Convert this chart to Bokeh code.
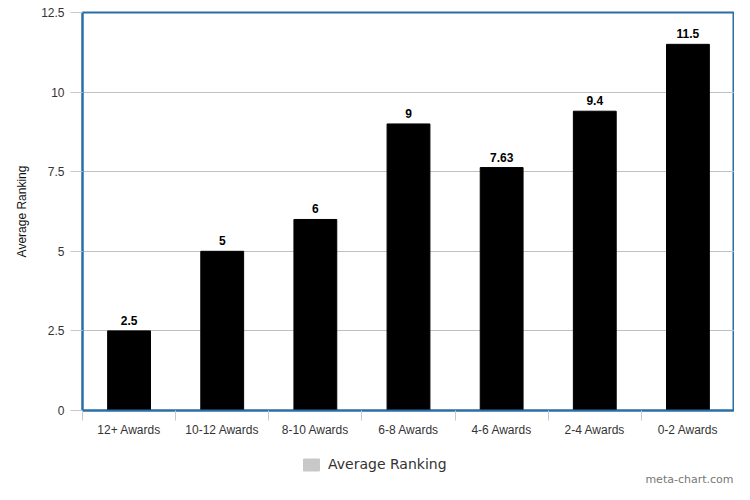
from bokeh.plotting import figure
from bokeh.layouts import column
from bokeh.models import ColumnDataSource, FixedTicker, Legend, LegendItem, Range1d, Label
from bokeh.core.properties import value
from bokeh.embed import file_html
from bokeh.resources import INLINE

categories = ["12+ Awards", "10-12 Awards", "8-10 Awards", "6-8 Awards", "4-6 Awards", "2-4 Awards", "0-2 Awards"]
values = [2.5, 5, 6, 9, 7.63, 9.4, 11.5]
value_labels = ["2.5", "5", "6", "9", "7.63", "9.4", "11.5"]
y_ticks = [0, 2.5, 5, 7.5, 10, 12.5]
series_name = "Average Ranking"

xs = list(range(1, len(categories) + 1))
src = ColumnDataSource(dict(x=xs, top=values, lab=value_labels))

p = figure(width=734, height=440, output_backend="svg", toolbar_location=None,
           x_range=Range1d(0.5, len(categories) + 0.5), y_range=Range1d(0, 12.5),
           min_border_left=82, min_border_right=0, min_border_top=12, min_border_bottom=30)

p.vbar(x="x", top="top", width=0.46, source=src, fill_color="black", line_color="black")
p.text(x="x", y="top", text="lab", source=src, text_align="center", text_baseline="bottom",
       y_offset=-6, text_font_size="12px", text_font_style="bold", text_color="black",
       text_font=value("Liberation Sans"))

p.outline_line_color = "#2a6ea6"
p.outline_line_width = 2
p.xaxis.ticker = FixedTicker(ticks=xs, minor_ticks=[x + 0.5 for x in range(0, len(categories) + 1)])
p.xaxis.major_label_overrides = {x: c for x, c in zip(xs, categories)}
p.xaxis.major_tick_out = 0
p.xaxis.major_tick_in = 0
p.xaxis.minor_tick_out = 10
p.xaxis.minor_tick_in = 0
p.xaxis.minor_tick_line_color = "#c8c8c8"
p.xaxis.axis_line_color = "#2a6ea6"
p.xaxis.axis_line_width = 2
p.xaxis.major_label_standoff = 2
p.xaxis.major_label_text_font = "Liberation Sans"
p.xaxis.major_label_text_font_size = "12px"
p.xaxis.major_label_text_color = "#333333"

p.yaxis.ticker = FixedTicker(ticks=y_ticks)
p.yaxis.major_label_overrides = {0: "0", 2.5: "2.5", 5: "5", 7.5: "7.5", 10: "10", 12.5: "12.5"}
p.yaxis.major_tick_out = 12
p.yaxis.major_tick_in = 0
p.yaxis.major_tick_line_color = "#c8c8c8"
p.yaxis.minor_tick_line_color = None
p.yaxis.axis_line_color = "#2a6ea6"
p.yaxis.axis_line_width = 2
p.yaxis.major_label_standoff = 6
p.yaxis.major_label_text_font = "Liberation Sans"
p.yaxis.major_label_text_font_size = "12px"
p.yaxis.major_label_text_color = "#333333"
p.yaxis.axis_label = series_name
p.yaxis.axis_label_text_font = "Liberation Sans"
p.yaxis.axis_label_text_font_size = "12px"
p.yaxis.axis_label_text_font_style = "normal"
p.yaxis.axis_label_text_color = "#111111"
p.yaxis.axis_label_standoff = 9

p.xgrid.grid_line_color = None
p.ygrid.grid_line_color = "#c0c0c0"
p.ygrid.grid_line_width = 1

# footer figure: legend and watermark (frame aligned with the chart above)
p2 = figure(width=734, height=44, output_backend="svg", toolbar_location=None,
            x_range=Range1d(0, 1), y_range=Range1d(0, 1),
            min_border_left=82, min_border_right=0, min_border_top=0, min_border_bottom=0)
p2.axis.visible = False
p2.grid.grid_line_color = None
p2.outline_line_color = None
# swatch renderer kept outside the visible range; it only feeds the legend
dummy = p2.quad(left=[5], right=[6], top=[5], bottom=[4], fill_color="#c8c8c8", line_color="#c8c8c8")
legend = Legend(items=[LegendItem(label=series_name, renderers=[dummy])],
                location=(219, 12), orientation="horizontal", border_line_color=None,
                background_fill_alpha=0, label_text_font="DejaVu Sans", label_text_font_size="14px",
                label_text_color="#333333", glyph_width=20, glyph_height=15, padding=0,
                margin=0, label_standoff=7, label_height=15)
p2.add_layout(legend, "center")
p2.add_layout(Label(x=651, y=-1, x_units="screen", y_units="screen", text="meta-chart.com",
                    text_font="DejaVu Sans", text_font_size="11px", text_color="#777777",
                    text_align="right", text_baseline="bottom"))

open("out.html", "w").write(file_html(column(p, p2), INLINE))
